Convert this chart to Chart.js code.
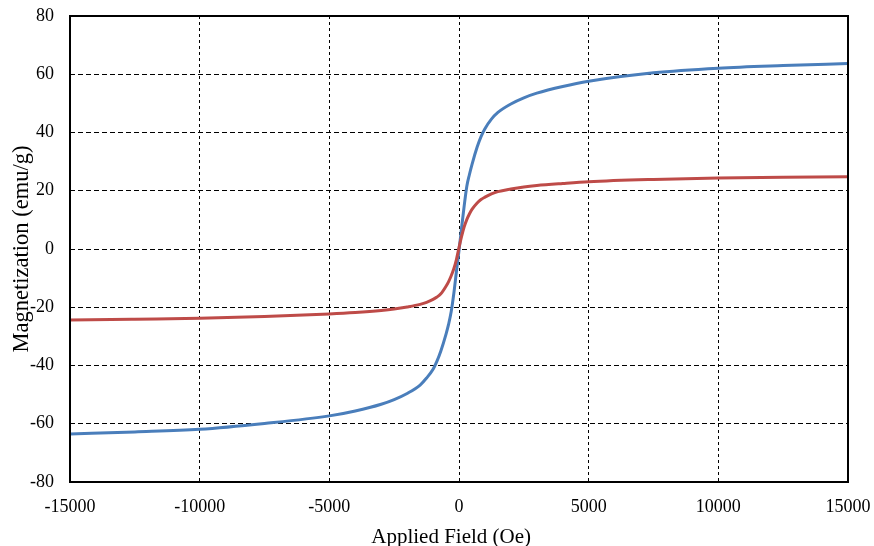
<!DOCTYPE html>
<html>
<head>
<meta charset="utf-8">
<script src="https://cdn.jsdelivr.net/npm/chart.js@4"></script>
<style>
  html, body { margin: 0; padding: 0; background: #fff; }
  #wrap { width: 874px; height: 546px; }
</style>
</head>
<body>
<div id="wrap"><canvas id="magChart"></canvas></div>
<script>
// applied field (Oe)
const fieldOe = [-15000, -12500, -10000, -7500, -5000, -4000, -3000, -2500, -2000, -1500, -1250, -1000, -850, -700,
  -500, -400, -300, -200, -100, 0, 100, 200, 300, 400, 500, 700, 850, 1000, 1250, 1500, 2000, 2500, 3000, 4000,
  5000, 7500, 10000, 12500, 15000];

// magnetization (emu/g)
const blueM = [-63.5, -62.8, -61.9, -59.9, -57.3, -55.6, -53.3, -51.7, -49.6, -46.7, -44.3, -41.3, -38.5, -35.0,
  -29.2, -25.8, -21.5, -15.3, -7.8, -0.5, 7.3, 14.8, 21.5, 25.5, 29.0, 35.0, 38.6, 41.3, 44.6, 46.9, 49.8, 51.9,
  53.5, 55.8, 57.6, 60.5, 62.1, 63.0, 63.7];
const redM = [-24.4, -24.1, -23.8, -23.2, -22.3, -21.8, -21.1, -20.6, -19.9, -19.0, -18.3, -17.3, -16.5, -15.4,
  -12.8, -11.2, -9.2, -6.8, -3.6, 0.5, 4.3, 7.6, 10.1, 12.0, 13.6, 15.8, 17.0, 17.8, 18.9, 19.7, 20.6, 21.3,
  21.8, 22.5, 23.1, 23.9, 24.4, 24.6, 24.8];

const xTicks = [-15000, -10000, -5000, 0, 5000, 10000, 15000];
const yTicks = [-80, -60, -40, -20, 0, 20, 40, 60, 80];

const toPoints = ys => fieldOe.map((x, i) => ({ x: x, y: ys[i] }));

const serif = "'Liberation Serif', 'Times New Roman', serif";

// solid frame round the plot area
const framePlugin = {
  id: 'frame',
  afterDraw(chart) {
    const a = chart.chartArea;
    const ctx = chart.ctx;
    ctx.save();
    ctx.strokeStyle = '#000';
    ctx.lineWidth = 2;
    ctx.strokeRect(a.left, a.top, a.right - a.left, a.bottom - a.top);
    ctx.restore();
  }
};

const data = {
  datasets: [{
    label: 'sample 2',
    data: toPoints(redM),
    borderColor: '#BE4B48',
    borderWidth: 3,
    pointRadius: 0,
    cubicInterpolationMode: 'monotone',
    fill: false
  }, {
    label: 'sample 1',
    data: toPoints(blueM),
    borderColor: '#4A7EBB',
    borderWidth: 3,
    pointRadius: 0,
    cubicInterpolationMode: 'monotone',
    fill: false
  }]
};

const config = {
  type: 'line',
  data: data,
  plugins: [framePlugin],
  options: {
    responsive: true,
    maintainAspectRatio: false,
    animation: false,
    layout: { padding: { left: 0, right: 26, top: 16, bottom: 0 } },
    plugins: { legend: { display: false }, tooltip: { enabled: false } },
    scales: {
      x: {
        type: 'linear',
        min: -15000,
        max: 15000,
        afterFit(scale) {
          scale.height = 64;
          scale.paddingLeft = 0;
          scale.paddingRight = 0;
        },
        afterBuildTicks(scale) { scale.ticks = xTicks.map(v => ({ value: v })); },
        grid: { color: '#000', lineWidth: 1, drawTicks: false },
        border: { display: false, dash: [3, 3] },
        ticks: {
          color: '#000', padding: 14, maxRotation: 0,
          font: { family: serif, size: 18 },
          callback: v => String(v)
        },
        title: {
          display: true, text: 'Applied Field (Oe)   ', color: '#000',
          font: { family: serif, size: 21, lineHeight: 0.8 }, padding: { top: 0, bottom: 0 }
        }
      },
      y: {
        type: 'linear',
        min: -80,
        max: 80,
        afterFit(scale) {
          scale.width = 70;
          scale.paddingTop = 0;
          scale.paddingBottom = 0;
        },
        afterBuildTicks(scale) { scale.ticks = yTicks.map(v => ({ value: v })); },
        grid: { color: '#000', lineWidth: 1, drawTicks: false },
        border: { display: false, dash: [5, 3] },
        ticks: {
          color: '#000', padding: 16,
          font: { family: serif, size: 18 },
          callback: v => String(v)
        },
        title: {
          display: true, text: 'Magnetization (emu/g)', color: '#000',
          font: { family: serif, size: 22.5 }, padding: { top: 9, bottom: 0 }
        }
      }
    }
  }
};

const magChart = new Chart(document.getElementById('magChart'), config);
</script>
</body>
</html>
